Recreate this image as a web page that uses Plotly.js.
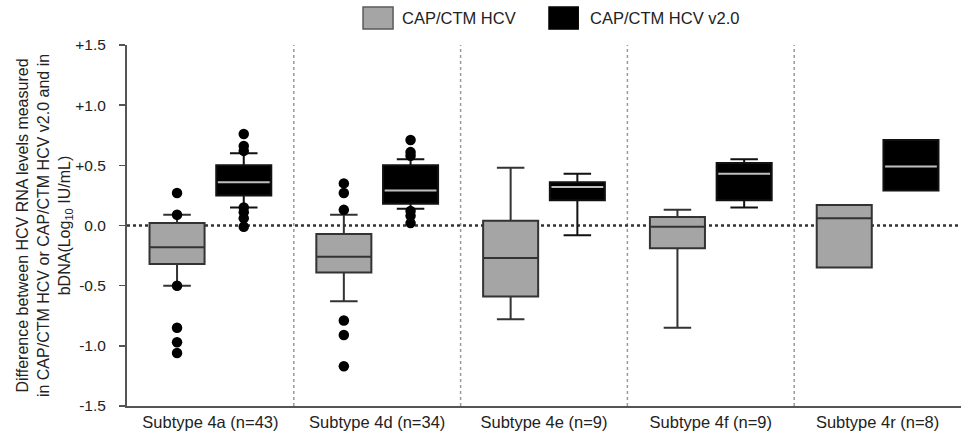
<!DOCTYPE html>
<html><head><meta charset="utf-8">
<script src="https://cdn.plot.ly/plotly-3.0.1.min.js"></script>
<style>html,body{margin:0;padding:0;background:#fff}#chart{width:962px;height:437px}</style>
</head><body><div id="chart"></div>
<script>
const categories = ["Subtype 4a (n=43)", "Subtype 4d (n=34)", "Subtype 4e (n=9)", "Subtype 4f (n=9)", "Subtype 4r (n=8)"];
const seriesNames = ["CAP/CTM HCV", "CAP/CTM HCV v2.0"];
const seriesFill = ['#a5a5a5', '#000000'];
// CAP/CTM HCV
const v1_lower  = [-0.50, -0.63, -0.78, -0.85, -0.35];
const v1_q1     = [-0.32, -0.39, -0.59, -0.19, -0.35];
const v1_median = [-0.18, -0.26, -0.27, -0.01,  0.06];
const v1_q3     = [ 0.02, -0.07,  0.04,  0.07,  0.17];
const v1_upper  = [ 0.09,  0.09,  0.48,  0.13,  0.17];
const v1_outliers = [[0.27, 0.09, -0.50, -0.85, -0.97, -1.06], [0.35, 0.27, 0.13, -0.79, -0.91, -1.17], [], [], []];
// CAP/CTM HCV v2.0
const v2_lower  = [0.15, 0.14, -0.08, 0.15, 0.29];
const v2_q1     = [0.25, 0.18,  0.21, 0.21, 0.29];
const v2_median = [0.36, 0.29,  0.32, 0.43, 0.49];
const v2_q3     = [0.50, 0.50,  0.36, 0.52, 0.71];
const v2_upper  = [0.60, 0.55,  0.43, 0.55, 0.71];
const v2_outliers = [[0.76, 0.66, 0.62, 0.15, 0.11, 0.06, -0.01], [0.71, 0.61, 0.58, 0.12, 0.08, 0.02], [], [], []];
const yTickVals = [1.5, 1.0, 0.5, 0.0, -0.5, -1.0, -1.5];
const yTickText = ["+1.5", "+1.0", "+0.5", "0.0", "-0.5", "-1.0", "-1.5"];

const OFF = 0.2, BW = 0.33;
const idx = categories.map((c, i) => i);
const traces = [];
function boxTrace(name, pos, lower, q1, med, q3, upper, fill, line) {
  return {type: 'box', name: name, x: pos, q1: q1, median: med, q3: q3, lowerfence: lower, upperfence: upper,
    width: BW, fillcolor: fill, line: {color: line, width: 2}, whiskerwidth: 0.5,
    boxpoints: false, showlegend: false, hoverinfo: 'skip'};
}
const pos1 = idx.map(i => i - OFF), pos2 = idx.map(i => i + OFF);
traces.push(boxTrace(seriesNames[0], pos1, v1_lower, v1_q1, v1_median, v1_q3, v1_upper, seriesFill[0], '#333333'));
traces.push(boxTrace(seriesNames[1], pos2, v2_lower, v2_q1, v2_median, v2_q3, v2_upper, seriesFill[1], '#111111'));
// light median line for black boxes
traces.push({type: 'box', x: pos2, q1: v2_median, median: v2_median, q3: v2_median, lowerfence: v2_median, upperfence: v2_median,
  width: BW * 0.94, fillcolor: 'rgba(0,0,0,0)', line: {color: '#bdbdbd', width: 2}, whiskerwidth: 0, boxpoints: false, showlegend: false, hoverinfo: 'skip'});
function outl(arrs, off) {
  const xs = [], ys = [];
  arrs.forEach((a, i) => a.forEach(v => { xs.push(i + off); ys.push(v); }));
  return {type: 'scatter', mode: 'markers', x: xs, y: ys, marker: {color: '#000', size: 10.5}, showlegend: false, hoverinfo: 'skip'};
}
traces.push(outl(v1_outliers, -OFF));
traces.push(outl(v2_outliers, OFF));

const shapes = [];
for (let i = 0; i < categories.length - 1; i++) {
  shapes.push({type: 'line', xref: 'x', yref: 'paper', x0: i + 0.5, x1: i + 0.5, y0: 0, y1: 1,
    line: {color: '#9a9a9a', width: 1.5, dash: 'dot'}, layer: 'below'});
}
shapes.push({type: 'line', xref: 'paper', yref: 'y', x0: 0, x1: 1, y0: 0, y1: 0,
  line: {color: '#333', width: 2.5, dash: 'dot'}, layer: 'below'});

// manual legend (large swatches)
const legX = [[0.283, 0.319], [0.506, 0.541]];
const legTextX = [0.327, 0.553];
const annotations = [];
seriesNames.forEach((n, i) => {
  shapes.push({type: 'rect', xref: 'paper', yref: 'paper', x0: legX[i][0], x1: legX[i][1], y0: 1.044, y1: 1.105,
    fillcolor: seriesFill[i], line: {color: i === 0 ? '#5a5a5a' : '#000', width: 1.5}});
  annotations.push({xref: 'paper', yref: 'paper', x: legTextX[i], y: 1.075, xanchor: 'left', yanchor: 'middle',
    text: n, showarrow: false, font: {size: 16.5, color: '#222'}});
});

const layout = {
  width: 962, height: 437,
  margin: {l: 127, r: 1, t: 45, b: 31},
  paper_bgcolor: '#fff', plot_bgcolor: '#fff',
  font: {family: 'Liberation Sans, Arial, sans-serif', size: 16, color: '#222'},
  showlegend: false,
  xaxis: {range: [-0.5, 4.5], tickvals: idx, ticktext: categories, showgrid: false, zeroline: false,
    showline: true, linecolor: '#555', linewidth: 2, ticks: '', tickfont: {size: 16.5}, fixedrange: true},
  yaxis: {range: [-1.5, 1.5], tickvals: yTickVals, ticktext: yTickText, showgrid: false, zeroline: false,
    showline: true, linecolor: '#555', linewidth: 2, ticks: 'outside', ticklen: 6, tickcolor: '#555', tickwidth: 1.5,
    tickfont: {size: 15.5}, ticklabelstandoff: 10,
    title: {text: 'Difference between HCV RNA levels measured<br>in CAP/CTM HCV or CAP/CTM HCV v2.0 and in<br>bDNA(Log<sub>10</sub> IU/mL)', font: {size: 16}, standoff: 0}},
  shapes: shapes,
  annotations: annotations
};
Plotly.newPlot('chart', traces, layout, {displayModeBar: false, staticPlot: true});
</script></body></html>
